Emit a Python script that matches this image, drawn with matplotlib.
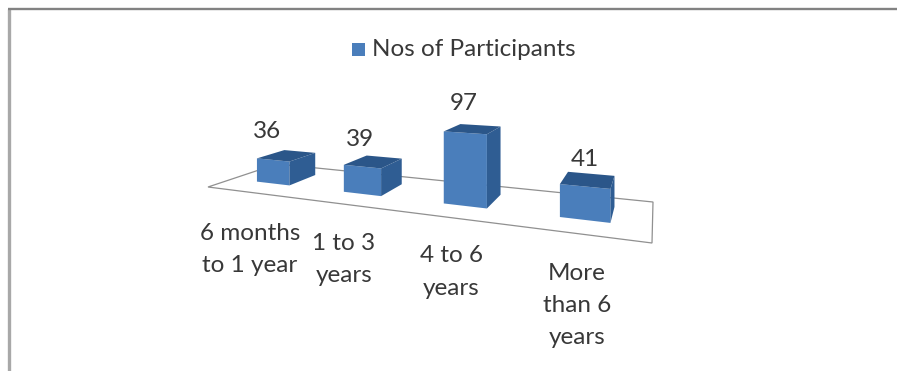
import numpy as np
import matplotlib
matplotlib.use("Agg")
import matplotlib.pyplot as plt
from matplotlib.patches import Polygon, Rectangle

# Survey data
categories = ["6 months\nto 1 year", "1 to 3\nyears", "4 to 6\nyears", "More\nthan 6\nyears"]
participants = [36, 39, 97, 41]
series_name = "Nos of Participants"

# Floor of the perspective plot, in canvas pixels (front-left, front-right, back-right, back-left)
FLOOR = np.array([[208, 187], [652, 243], [653, 202], [277, 164]], dtype=float)
HEIGHT_SCALE = 0.67
BAR_U = 0.39      # share of a category slot taken by the bar
BAR_V = (0.32, 0.74)  # depth range of the bars on the floor

FRONT, SIDE, TOP = "#4a7ebb", "#2f5d93", "#2b5689"
TEXT = "#383838"
plt.rcParams["font.family"] = ["Lato", "DejaVu Sans"]


def floor_homography(corners):
    src = [(0, 0), (1, 0), (1, 1), (0, 1)]
    rows, rhs = [], []
    for (u, v), (x, y) in zip(src, corners):
        rows.append([u, v, 1, 0, 0, 0, -u * x, -v * x]); rhs.append(x)
        rows.append([0, 0, 0, u, v, 1, -u * y, -v * y]); rhs.append(y)
    return np.append(np.linalg.solve(np.array(rows), np.array(rhs)), 1).reshape(3, 3)


H = floor_homography(FLOOR)


def project(u, v, z=0.0):
    X, Y, W = H @ np.array([u, v, 1.0])
    return np.array([X / W, Y / W - HEIGHT_SCALE * z / W])


fig = plt.figure(figsize=(8.97, 3.71), dpi=100)
ax = fig.add_axes([0, 0, 1, 1])
ax.set_xlim(0, 897)
ax.set_ylim(371, 0)
ax.axis("off")

# Outer chart frame
ax.plot([8.8, 8.8], [371, 9], color="#a8a8a8", lw=2.4, solid_capstyle="butt", zorder=1)
ax.plot([7.5, 897], [9.4, 9.4], color="#828282", lw=1.7, solid_capstyle="butt", zorder=1)

# Floor outline
ax.add_patch(Polygon(FLOOR, closed=True, fill=False, edgecolor="#909090", lw=0.9, zorder=2))

n = len(participants)
slot = 1 / n
for i, value in enumerate(participants):
    u0 = (i + 0.5 - BAR_U / 2) * slot
    u1 = (i + 0.5 + BAR_U / 2) * slot
    v0, v1 = BAR_V
    ax.add_patch(Polygon([project(u0, v0), project(u1, v0), project(u1, v0, value), project(u0, v0, value)],
                         color=FRONT, lw=0, zorder=4 + i))
    ax.add_patch(Polygon([project(u1, v0), project(u1, v1), project(u1, v1, value), project(u1, v0, value)],
                         color=SIDE, lw=0, zorder=4 + i))
    ax.add_patch(Polygon([project(u0, v0, value), project(u1, v0, value), project(u1, v1, value), project(u0, v1, value)],
                         color=TOP, lw=0, zorder=4 + i))

# Value labels sit above each bar, category labels below the floor
LABEL_CENTERS = [(267, 132), (360, 140), (464, 103), (585, 159)]
for (x, y), value in zip(LABEL_CENTERS, participants):
    ax.text(x, y, str(value), ha="center", va="center", fontsize=17.5, color=TEXT, zorder=20)

CATEGORY_TOPS = [(250, 233), (344, 243), (451, 256), (577, 273)]
for (x, y), label in zip(CATEGORY_TOPS, categories):
    for k, line in enumerate(label.split("\n")):
        ax.text(x, y + 32.5 * k, line, ha="center", va="center", fontsize=17.5, color=TEXT, zorder=20)

# Legend
ax.add_patch(Rectangle((352, 43), 13, 13, color=FRONT, lw=0, zorder=20))
ax.text(372, 50, series_name, ha="left", va="center", fontsize=17.5, color=TEXT, zorder=20)

fig.savefig("out.png", dpi=100)
